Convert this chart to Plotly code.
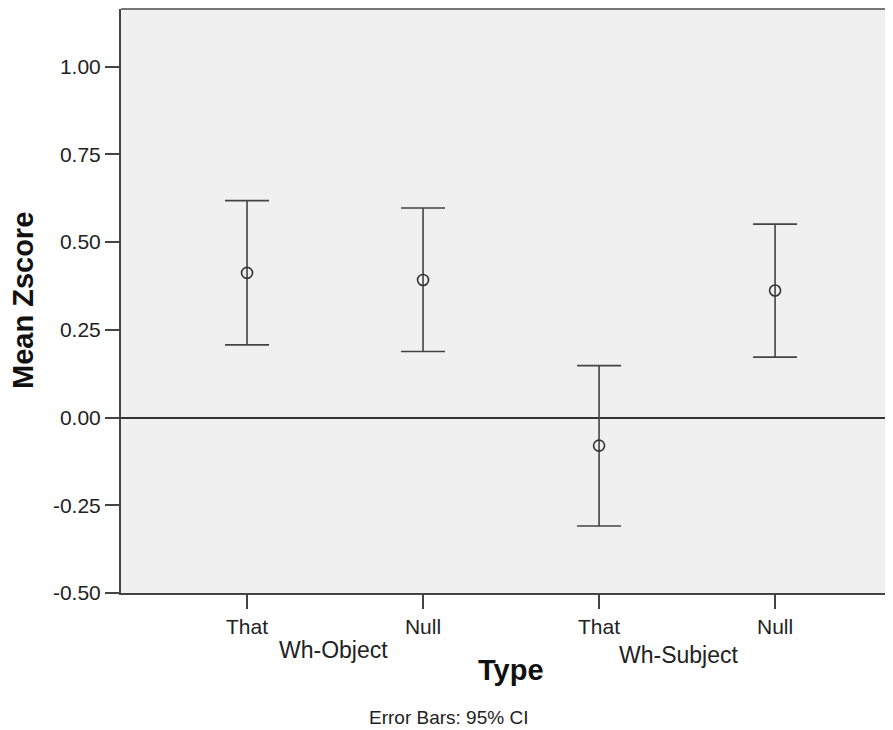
import plotly.graph_objects as go

# ---- data ----
categories = ["That", "Null", "That", "Null"]
groups = ["Wh-Object", "Wh-Subject"]
means = [0.412, 0.392, -0.080, 0.362]
ci_lower = [0.207, 0.188, -0.309, 0.172]
ci_upper = [0.618, 0.597, 0.148, 0.551]
y_ticks = [-0.50, -0.25, 0.00, 0.25, 0.50, 0.75, 1.00]
y_tick_text = ["%.2f" % v for v in y_ticks]

x_pos = list(range(len(categories)))
err_plus = [u - m for u, m in zip(ci_upper, means)]
err_minus = [m - l for m, l in zip(means, ci_lower)]

FONT = "Liberation Sans, Arial, sans-serif"
TXT = "#222222"
AX = "#444444"

fig = go.Figure()
fig.add_trace(go.Scatter(
    x=x_pos, y=means, mode="markers",
    marker=dict(symbol="circle-open", size=11, color="#333333",
                line=dict(width=1.6, color="#333333")),
    error_y=dict(type="data", symmetric=False, array=err_plus,
                 arrayminus=err_minus, width=22, thickness=1.6,
                 color="#444444"),
    showlegend=False, hoverinfo="skip",
))

fig.update_layout(
    width=885, height=722,
    margin=dict(l=113, r=0, t=1, b=137),
    paper_bgcolor="white", plot_bgcolor="#f0f0f0",
    font=dict(family=FONT, color=TXT),
    xaxis=dict(
        range=[-0.716, 3.67], tickvals=x_pos, ticktext=categories,
        showgrid=False, zeroline=False, showline=True, linecolor=AX,
        linewidth=2, ticks="outside", ticklen=14, tickwidth=1.5,
        tickcolor=AX, tickfont=dict(size=21, color=TXT, family=FONT),
        fixedrange=True,
    ),
    yaxis=dict(
        range=[-0.5, 1.164], tickvals=y_ticks, ticktext=y_tick_text,
        showgrid=False, zeroline=True, zerolinecolor="#333333",
        zerolinewidth=1.5, showline=True, linecolor=AX, linewidth=2,
        ticks="outside", ticklen=14, tickwidth=1.5, tickcolor=AX,
        tickfont=dict(size=21, color=TXT, family=FONT),
        fixedrange=True,
    ),
    shapes=[dict(type="line", xref="paper", yref="paper", x0=0, x1=1,
                 y0=1, y1=1, line=dict(color="#777777", width=2))],
)

# group labels
fig.add_annotation(x=0.49, y=0, xref="x", yref="paper", text=groups[0],
                   showarrow=False, yanchor="middle", yshift=-57,
                   font=dict(size=23, color=TXT, family=FONT))
fig.add_annotation(x=2.45, y=0, xref="x", yref="paper", text=groups[1],
                   showarrow=False, yanchor="middle", yshift=-62,
                   font=dict(size=23, color=TXT, family=FONT))
# axis titles
fig.add_annotation(x=1.5, y=0, xref="x", yref="paper", text="<b>Type</b>",
                   showarrow=False, yanchor="middle", yshift=-77,
                   font=dict(size=29, color="#111111", family=FONT))
fig.add_annotation(x=0, y=0.5, xref="paper", yref="paper",
                   text="<b>Mean Zscore</b>", textangle=-90,
                   showarrow=False, xanchor="center", yanchor="middle",
                   xshift=-98, font=dict(size=29, color="#111111", family=FONT))
fig.add_annotation(x=1.145, y=0, xref="x", yref="paper",
                   text="Error Bars: 95% CI", showarrow=False,
                   yanchor="middle", yshift=-124,
                   font=dict(size=19, color=TXT, family=FONT))

fig.write_html("out.html")
